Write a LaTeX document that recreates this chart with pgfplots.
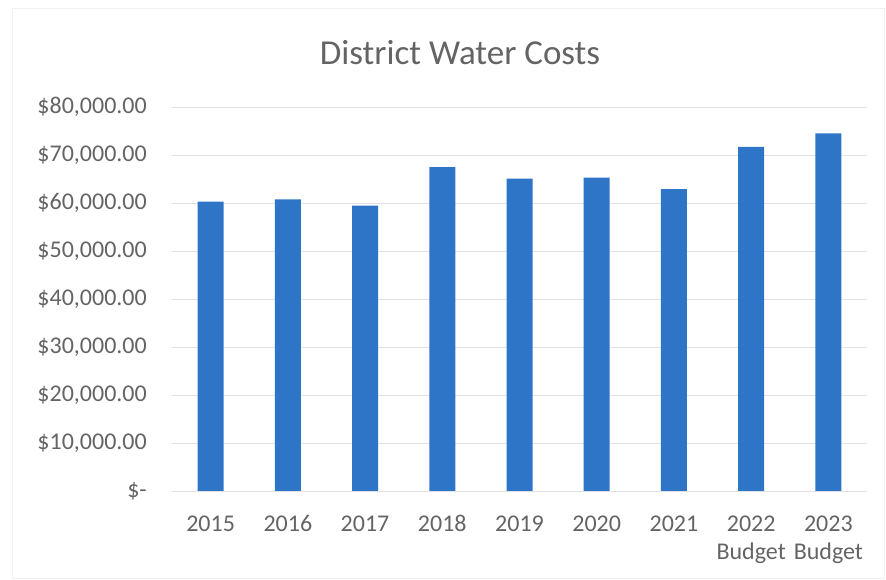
\documentclass[border=0pt]{standalone}
\usepackage{pgfplots}
\pgfplotsset{compat=1.18}
\usepackage{fontspec}
\setmainfont{Carlito}
\definecolor{barblue}{RGB}{46,117,200}
\definecolor{txtgray}{RGB}{100,100,100}
\definecolor{gridgray}{RGB}{225,225,225}
\begin{document}
\begin{tikzpicture}[x=1pt,y=1pt]
\path[use as bounding box] (0,0) rectangle (886,580);
\draw[gray!12] (12,2) rectangle (884,572);
\node[font=\fontsize{35}{42}\selectfont, text=txtgray, anchor=base] at (460,515) {District Water Costs};
\begin{axis}[
  at={(172pt,89pt)}, anchor=south west, scale only axis,
  width=695pt, height=384pt,
  xmin=-0.5, xmax=8.5, ymin=0, ymax=80000,
  ybar, bar width=26pt,
  axis line style={draw=none},
  major tick length=0pt,
  scaled y ticks=false,
  ymajorgrids, grid style={gridgray, line width=0.9pt},
  ytick={0,10000,20000,30000,40000,50000,60000,70000,80000},
  yticklabels={{\$-\hspace{15pt}},{\$10,000.00},{\$20,000.00},{\$30,000.00},{\$40,000.00},{\$50,000.00},{\$60,000.00},{\$70,000.00},{\$80,000.00}},
  xtick=data,
  xticklabels={\strut 2015,\strut 2016,\strut 2017,\strut 2018,\strut 2019,\strut 2020,\strut 2021,{\strut 2022\\Budget},{\strut 2023\\Budget}},
  tick label style={font=\fontsize{24}{28}\selectfont, text=txtgray, inner sep=0pt},
  yticklabel style={anchor=east, xshift=-25pt},
  xticklabel style={align=center, anchor=north, yshift=-21pt},
  clip=false,
]
\addplot[fill=barblue, draw=none] coordinates {
(0,60270) (1,60750) (2,59450) (3,67470) (4,65070) (5,65270) (6,62900) (7,71700) (8,74500)};
\end{axis}
\end{tikzpicture}
\end{document}
